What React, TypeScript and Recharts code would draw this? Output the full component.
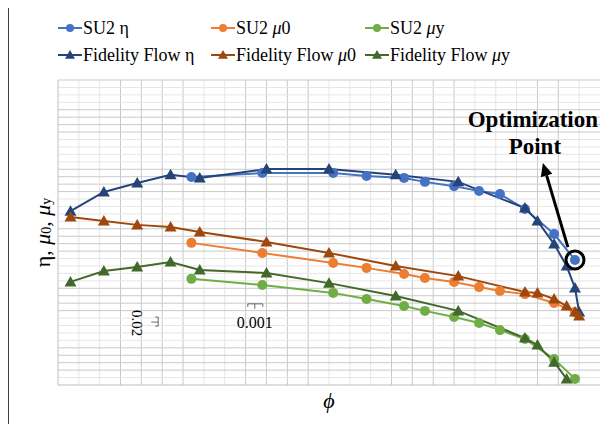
import { LineChart, Line, XAxis, YAxis, ReferenceDot, ReferenceLine } from "recharts"

// SU2 results
const su2Phi = [0.032, 0.049, 0.066, 0.074, 0.083, 0.088, 0.095, 0.101, 0.106, 0.112, 0.119, 0.124]
const su2Eta = [0.682, 0.695, 0.695, 0.685, 0.679, 0.666, 0.652, 0.636, 0.626, 0.577, 0.495, 0.41]
const su2Mu0 = [0.466, 0.433, 0.4, 0.384, 0.364, 0.351, 0.338, 0.321, 0.308, 0.298, 0.269, 0.239]
const su2MuY = [0.348, 0.328, 0.302, 0.282, 0.259, 0.243, 0.223, 0.203, 0.18, 0.151, 0.085, 0.02]

// Fidelity Flow results
const ffPhi = [0.003, 0.011, 0.019, 0.027, 0.034, 0.05, 0.065, 0.081, 0.096, 0.112, 0.115, 0.119, 0.122, 0.124, 0.125]
const ffEta = [0.57, 0.633, 0.662, 0.689, 0.679, 0.708, 0.708, 0.689, 0.666, 0.58, 0.538, 0.462, 0.39, 0.318, 0.239]
const ffMu0 = [0.551, 0.538, 0.525, 0.518, 0.502, 0.469, 0.433, 0.39, 0.357, 0.305, 0.302, 0.282, 0.259, 0.239, 0.226]
const ffMuY = [0.338, 0.374, 0.387, 0.403, 0.377, 0.367, 0.334, 0.292, 0.243, 0.154, 0.131, 0.075, 0.02]

// optimization point = last SU2 eta point
const optPhi = 0.124
const optEta = 0.41

// grid: 26 columns across phi, 41 rows across the value axis
const xTicks = Array.from({ length: 26 }, (_, i) => +(i * 0.005).toFixed(3))
const yTicks = Array.from({ length: 42 }, (_, i) => i / 41)
// which vertical grid lines are drawn darker (as in the source figure)
const darkCols = [3, 4, 5, 6, 9, 10, 11, 12, 16, 17, 18, 19, 23, 24]

const toRows = (xs: number[], ys: number[]) => ys.map((v, i) => ({ phi: xs[i], v }))

const font = "Liberation Serif, Tinos, DejaVu Serif, serif"

const series = [
  { key: "su2Eta", name: "SU2 η", label: <>SU2 η</>, color: "#4472C4", tri: false, data: toRows(su2Phi, su2Eta) },
  { key: "su2Mu0", name: "SU2 μ0", label: <>SU2 <i>μ</i>0</>, color: "#ED7D31", tri: false, data: toRows(su2Phi, su2Mu0) },
  { key: "su2MuY", name: "SU2 μy", label: <>SU2 <i>μ</i>y</>, color: "#70AD47", tri: false, data: toRows(su2Phi, su2MuY) },
  { key: "ffEta", name: "Fidelity Flow η", label: <>Fidelity Flow η</>, color: "#264478", tri: true, data: toRows(ffPhi, ffEta) },
  { key: "ffMu0", name: "Fidelity Flow μ0", label: <>Fidelity Flow <i>μ</i>0</>, color: "#9E480E", tri: true, data: toRows(ffPhi, ffMu0) },
  { key: "ffMuY", name: "Fidelity Flow μy", label: <>Fidelity Flow <i>μ</i>y</>, color: "#43682B", tri: true, data: toRows(ffPhi, ffMuY) },
]

const triPoints = (cx: number, cy: number, s: number) =>
  `${cx},${cy - s} ${cx + s},${cy + s * 0.75} ${cx - s},${cy + s * 0.75}`

const makeDot = (color: string, tri: boolean) => (p: any) => {
  if (p.cx == null || p.cy == null) return <g key={p.index} />
  if (tri) return <polygon key={p.index} points={triPoints(p.cx, p.cy, 6)} fill={color} />
  return <circle key={p.index} cx={p.cx} cy={p.cy} r={5} fill={color} />
}

function LegendBox() {
  return (
    <div
      style={{
        position: "absolute",
        left: 58,
        top: 17,
        display: "grid",
        gridTemplateColumns: "153px 154px 200px",
        rowGap: 5,
        fontFamily: font,
        fontSize: 18,
        color: "#000",
      }}
    >
      {series.map((s) => (
        <div key={s.key} style={{ display: "flex", alignItems: "center", whiteSpace: "nowrap", height: 22 }}>
          <svg width={24} height={12} style={{ marginRight: 1 }}>
            <line x1={0} y1={6} x2={24} y2={6} stroke={s.color} strokeWidth={2} />
            {s.tri ? <polygon points={triPoints(12, 6, 5)} fill={s.color} /> : <circle cx={12} cy={6} r={4} fill={s.color} />}
          </svg>
          <span>{s.label}</span>
        </div>
      ))}
    </div>
  )
}

const YLabel = (props: any) => {
  const vb = props.viewBox
  const cx = 42
  const cy = vb.y + vb.height / 2
  return (
    <text x={cx} y={cy} transform={`rotate(-90 ${cx} ${cy})`} textAnchor="middle" dominantBaseline="central" fontSize={22} fontFamily={font} fill="#000">
      η, <tspan fontStyle="italic">μ</tspan>
      <tspan dy={4} fontSize={14}>0</tspan>
      <tspan dy={-4}>, </tspan>
      <tspan fontStyle="italic">μ</tspan>
      <tspan dy={4} fontSize={14}>y</tspan>
    </text>
  )
}

const XLabel = (props: any) => {
  const vb = props.viewBox
  return (
    <text x={vb.x + vb.width / 2} y={vb.y + 23} textAnchor="middle" fontSize={22} fontStyle="italic" fontFamily={font} fill="#000">
      ϕ
    </text>
  )
}

const Arrow = (p: any) => {
  const { x1, y1, x2, y2 } = p
  const ang = Math.atan2(y2 - y1, x2 - x1)
  const len = 13
  const w = 6
  const bx = x2 - len * Math.cos(ang)
  const by = y2 - len * Math.sin(ang)
  const px = -Math.sin(ang) * w
  const py = Math.cos(ang) * w
  return (
    <g>
      <line x1={x1} y1={y1} x2={bx} y2={by} stroke="#000" strokeWidth={3} />
      <polygon points={`${x2},${y2} ${bx + px},${by + py} ${bx - px},${by - py}`} fill="#000" />
      <text x={x2 - 10} y={y2 - 36} textAnchor="middle" fontSize={23} fontWeight="bold" fontFamily={font} fill="#000">
        Optimization
      </text>
      <text x={x2 - 8} y={y2 - 9} textAnchor="middle" fontSize={23} fontWeight="bold" fontFamily={font} fill="#000">
        Point
      </text>
    </g>
  )
}

const Note002 = (p: any) => {
  const { cx, cy } = p
  return (
    <g fontFamily={font} fontSize={15} fill="#000">
      <text x={cx} y={cy} transform={`rotate(90 ${cx} ${cy})`} textAnchor="middle" dominantBaseline="central" fontFamily={font}>0.02</text>
      <path d={`M${cx + 18},${cy - 6} L${cx + 21},${cy - 6} L${cx + 21},${cy + 3} L${cx + 18},${cy + 3} M${cx + 21},${cy - 1} L${cx + 14},${cy - 1}`} stroke="#444" strokeWidth={0.8} fill="none" />
    </g>
  )
}

const Note0001 = (p: any) => {
  const { cx, cy } = p
  return (
    <g fontFamily={font} fontSize={16} fill="#000">
      <text x={cx} y={cy + 6} textAnchor="middle" fontFamily={font}>0.001</text>
      <path d={`M${cx - 7},${cy - 15} L${cx - 7},${cy - 18} L${cx + 8},${cy - 18} L${cx + 8},${cy - 15} M${cx},${cy - 18} L${cx},${cy - 13}`} stroke="#444" strokeWidth={0.8} fill="none" />
    </g>
  )
}

export default function App() {
  return (
    <div style={{ position: "absolute", left: 0, top: 0, width: 600, height: 424, background: "#fff", overflow: "hidden", fontFamily: font }}>
      <div style={{ position: "absolute", left: 8, top: 8, width: 0, height: 416, borderLeft: "1.5px solid #404040" }} />
      <LineChart width={600} height={424} margin={{ top: 80, right: 0, left: 0, bottom: 0 }} style={{ fontFamily: font }}>
        <XAxis
          dataKey="phi"
          type="number"
          domain={[0, 0.13]}
          tick={false}
          tickLine={false}
          axisLine={{ stroke: "#bfbfbf" }}
          height={39}
          allowDataOverflow
          label={{ content: XLabel }}
        />
        <YAxis
          type="number"
          domain={[0, 1]}
          tick={false}
          tickLine={false}
          axisLine={{ stroke: "#bfbfbf" }}
          width={58}
          label={{ content: YLabel }}
        />
        {xTicks.slice(1).map((v, i) => (
          <ReferenceLine key={"vx" + v} x={v} stroke={darkCols.includes(i + 1) ? "#c8c8c8" : "#e6e6e6"} strokeWidth={1} zIndex={-100} />
        ))}
        {yTicks.slice(1).map((v, j) => {
          const fromTop = 41 - (j + 1)
          const dark = fromTop === 0 || Math.floor(fromTop / 4) % 2 === 1
          return <ReferenceLine key={"hy" + j} y={v} stroke={dark ? "#cacaca" : "#e6e6e6"} strokeWidth={1} zIndex={-100} />
        })}
        {series.map((s) => (
          <Line
            key={s.key}
            data={s.data}
            dataKey="v"
            name={s.name}
            type="linear"
            stroke={s.color}
            strokeWidth={2}
            dot={makeDot(s.color, s.tri)}
            activeDot={false}
            isAnimationActive={false}
          />
        ))}
        <ReferenceDot x={optPhi} y={optEta} r={9} fill="none" stroke="#000" strokeWidth={3} />
        <ReferenceLine
          segment={[
            { x: 0.1223, y: 0.452 },
            { x: 0.1163, y: 0.728 },
          ]}
          stroke="#000"
          shape={Arrow}
        />
        <ReferenceDot x={0.019} y={0.203} r={0} shape={Note002} />
        <ReferenceDot x={0.0472} y={0.207} r={0} shape={Note0001} />
      </LineChart>
      <LegendBox />
    </div>
  )
}
